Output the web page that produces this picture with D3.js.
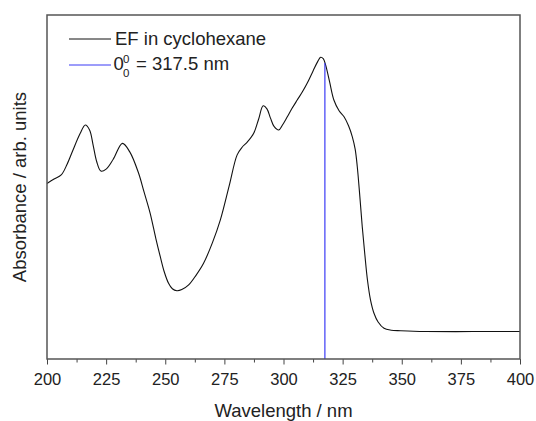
<!DOCTYPE html>
<html>
<head>
<meta charset="utf-8">
<script src="https://cdn.jsdelivr.net/npm/d3@7"></script>
<style>
  body { margin: 0; background: #fff; }
  text { font-family: Arial, "Liberation Sans", sans-serif; fill: #222; }
</style>
</head>
<body>
<div id="target"></div>
<script>
const width = 536,
  height = 421;

// spectrum (wavelength in nm, absorbance in arb. units)
const wavelength = [200, 203, 206, 208.5, 211, 214, 216.2, 218, 219.5, 221, 222.8, 225, 228, 231.9, 235, 238.7, 241, 243.6, 246, 247.9, 249.5, 251.4, 253, 254.9, 257, 259.9, 263, 266.2, 270, 273.3, 277, 280.4, 282.5, 284.6, 287.4, 289.5, 291.4, 293, 294.5, 296, 298, 299.5, 301.6, 303.5, 305.8, 308, 310, 312.5, 314.5, 315.7, 316.8, 317.8, 319.5, 321.3, 323.5, 325.6, 327.5, 329.1, 330.3, 331.2, 332.3, 333.3, 334.4, 335.5, 336.8, 338.3, 340, 342.5, 345.5, 349.6, 355, 360, 380, 400];
const absorbance = [0.540, 0.556, 0.571, 0.610, 0.662, 0.722, 0.753, 0.735, 0.680, 0.620, 0.585, 0.592, 0.628, 0.686, 0.655, 0.578, 0.510, 0.432, 0.340, 0.273, 0.220, 0.176, 0.156, 0.149, 0.153, 0.170, 0.205, 0.249, 0.325, 0.407, 0.530, 0.644, 0.672, 0.690, 0.723, 0.775, 0.823, 0.812, 0.778, 0.748, 0.735, 0.752, 0.783, 0.812, 0.844, 0.874, 0.905, 0.950, 0.985, 1.000, 0.995, 0.972, 0.910, 0.844, 0.805, 0.783, 0.750, 0.710, 0.665, 0.601, 0.490, 0.382, 0.280, 0.188, 0.115, 0.066, 0.035, 0.012, 0.005, 0.003, 0.001, 0.000, 0.000, 0.000];

const zeroZero = 317.5;
const xTicks = [200, 225, 250, 275, 300, 325, 350, 375, 400];
const legendLabels = ["EF in cyclohexane", "= 317.5 nm"];

const data = wavelength.map((w, i) => ({ w: w, a: absorbance[i] }));

const margin = { top: 15, right: 16, bottom: 62, left: 47 };
const innerW = width - margin.left - margin.right,
  innerH = height - margin.top - margin.bottom;

const x = d3.scaleLinear().domain([200, 400]).range([0, innerW]);
const y = d3.scaleLinear().domain([-0.1, 1.154]).range([innerH, 0]);

const svg = d3.select("#target").append("svg")
  .attr("width", width)
  .attr("height", height);

const g = svg.append("g")
  .attr("transform", `translate(${margin.left},${margin.top})`);

// minor ticks
g.append("g")
  .attr("transform", `translate(0,${innerH})`)
  .call(d3.axisBottom(x).tickValues(d3.range(212.5, 400, 25)).tickSize(3.5).tickFormat(""))
  .call((ax) => ax.select(".domain").remove())
  .call((ax) => ax.selectAll("line").attr("stroke", "#444"));

// major ticks + labels
g.append("g")
  .attr("transform", `translate(0,${innerH})`)
  .call(d3.axisBottom(x).tickValues(xTicks).tickSize(5.5).tickPadding(8.5))
  .call((ax) => ax.select(".domain").remove())
  .call((ax) => ax.selectAll("line").attr("stroke", "#444"))
  .call((ax) => ax.selectAll("text")
    .style("font-size", "16.5px")
    .style("font-family", "Arial, 'Liberation Sans', sans-serif")
    .attr("fill", "#222"));

// spectrum
const line = d3.line()
  .x((d) => x(d.w))
  .y((d) => y(d.a))
  .curve(d3.curveCatmullRom.alpha(0.5));

g.append("path")
  .datum(data)
  .attr("fill", "none")
  .attr("stroke", "#111")
  .attr("stroke-width", 1.1)
  .attr("d", line);

// 0-0 transition marker
const topA = d3.scaleLinear().domain(wavelength).range(absorbance)(zeroZero);
g.append("line")
  .attr("x1", x(zeroZero)).attr("x2", x(zeroZero))
  .attr("y1", y(topA)).attr("y2", innerH)
  .attr("stroke", "#3b3bf5")
  .attr("stroke-width", 1.2);

// frame
g.append("rect")
  .attr("width", innerW)
  .attr("height", innerH)
  .attr("fill", "none")
  .attr("stroke", "#555")
  .attr("stroke-width", 1.5);

// legend
const legend = g.append("g").attr("transform", "translate(22,24)");
legend.append("line")
  .attr("x1", 0).attr("x2", 42).attr("y1", 0).attr("y2", 0)
  .attr("stroke", "#111");
legend.append("text")
  .attr("x", 46).attr("y", 6)
  .style("font-size", "18.5px")
  .text(legendLabels[0]);

legend.append("line")
  .attr("x1", 0).attr("x2", 42).attr("y1", 26).attr("y2", 26)
  .attr("stroke", "#3b3bf5");
const t = legend.append("g");
t.append("text").attr("x", 44.5).attr("y", 31).style("font-size", "18.5px").text("0");
t.append("text").attr("x", 54).attr("y", 24).style("font-size", "11.5px").text("0");
t.append("text").attr("x", 54).attr("y", 38).style("font-size", "11.5px").text("0");
t.append("text").attr("x", 67).attr("y", 31).style("font-size", "18.5px").text(legendLabels[1]);

// axis titles
svg.append("text")
  .attr("x", margin.left + innerW / 2)
  .attr("y", 417)
  .attr("text-anchor", "middle")
  .style("font-size", "18.5px")
  .text("Wavelength / nm");

svg.append("text")
  .attr("transform", `translate(26,${margin.top + innerH / 2}) rotate(-90)`)
  .attr("text-anchor", "middle")
  .style("font-size", "18.5px")
  .text("Absorbance / arb. units");
</script>
</body>
</html>
